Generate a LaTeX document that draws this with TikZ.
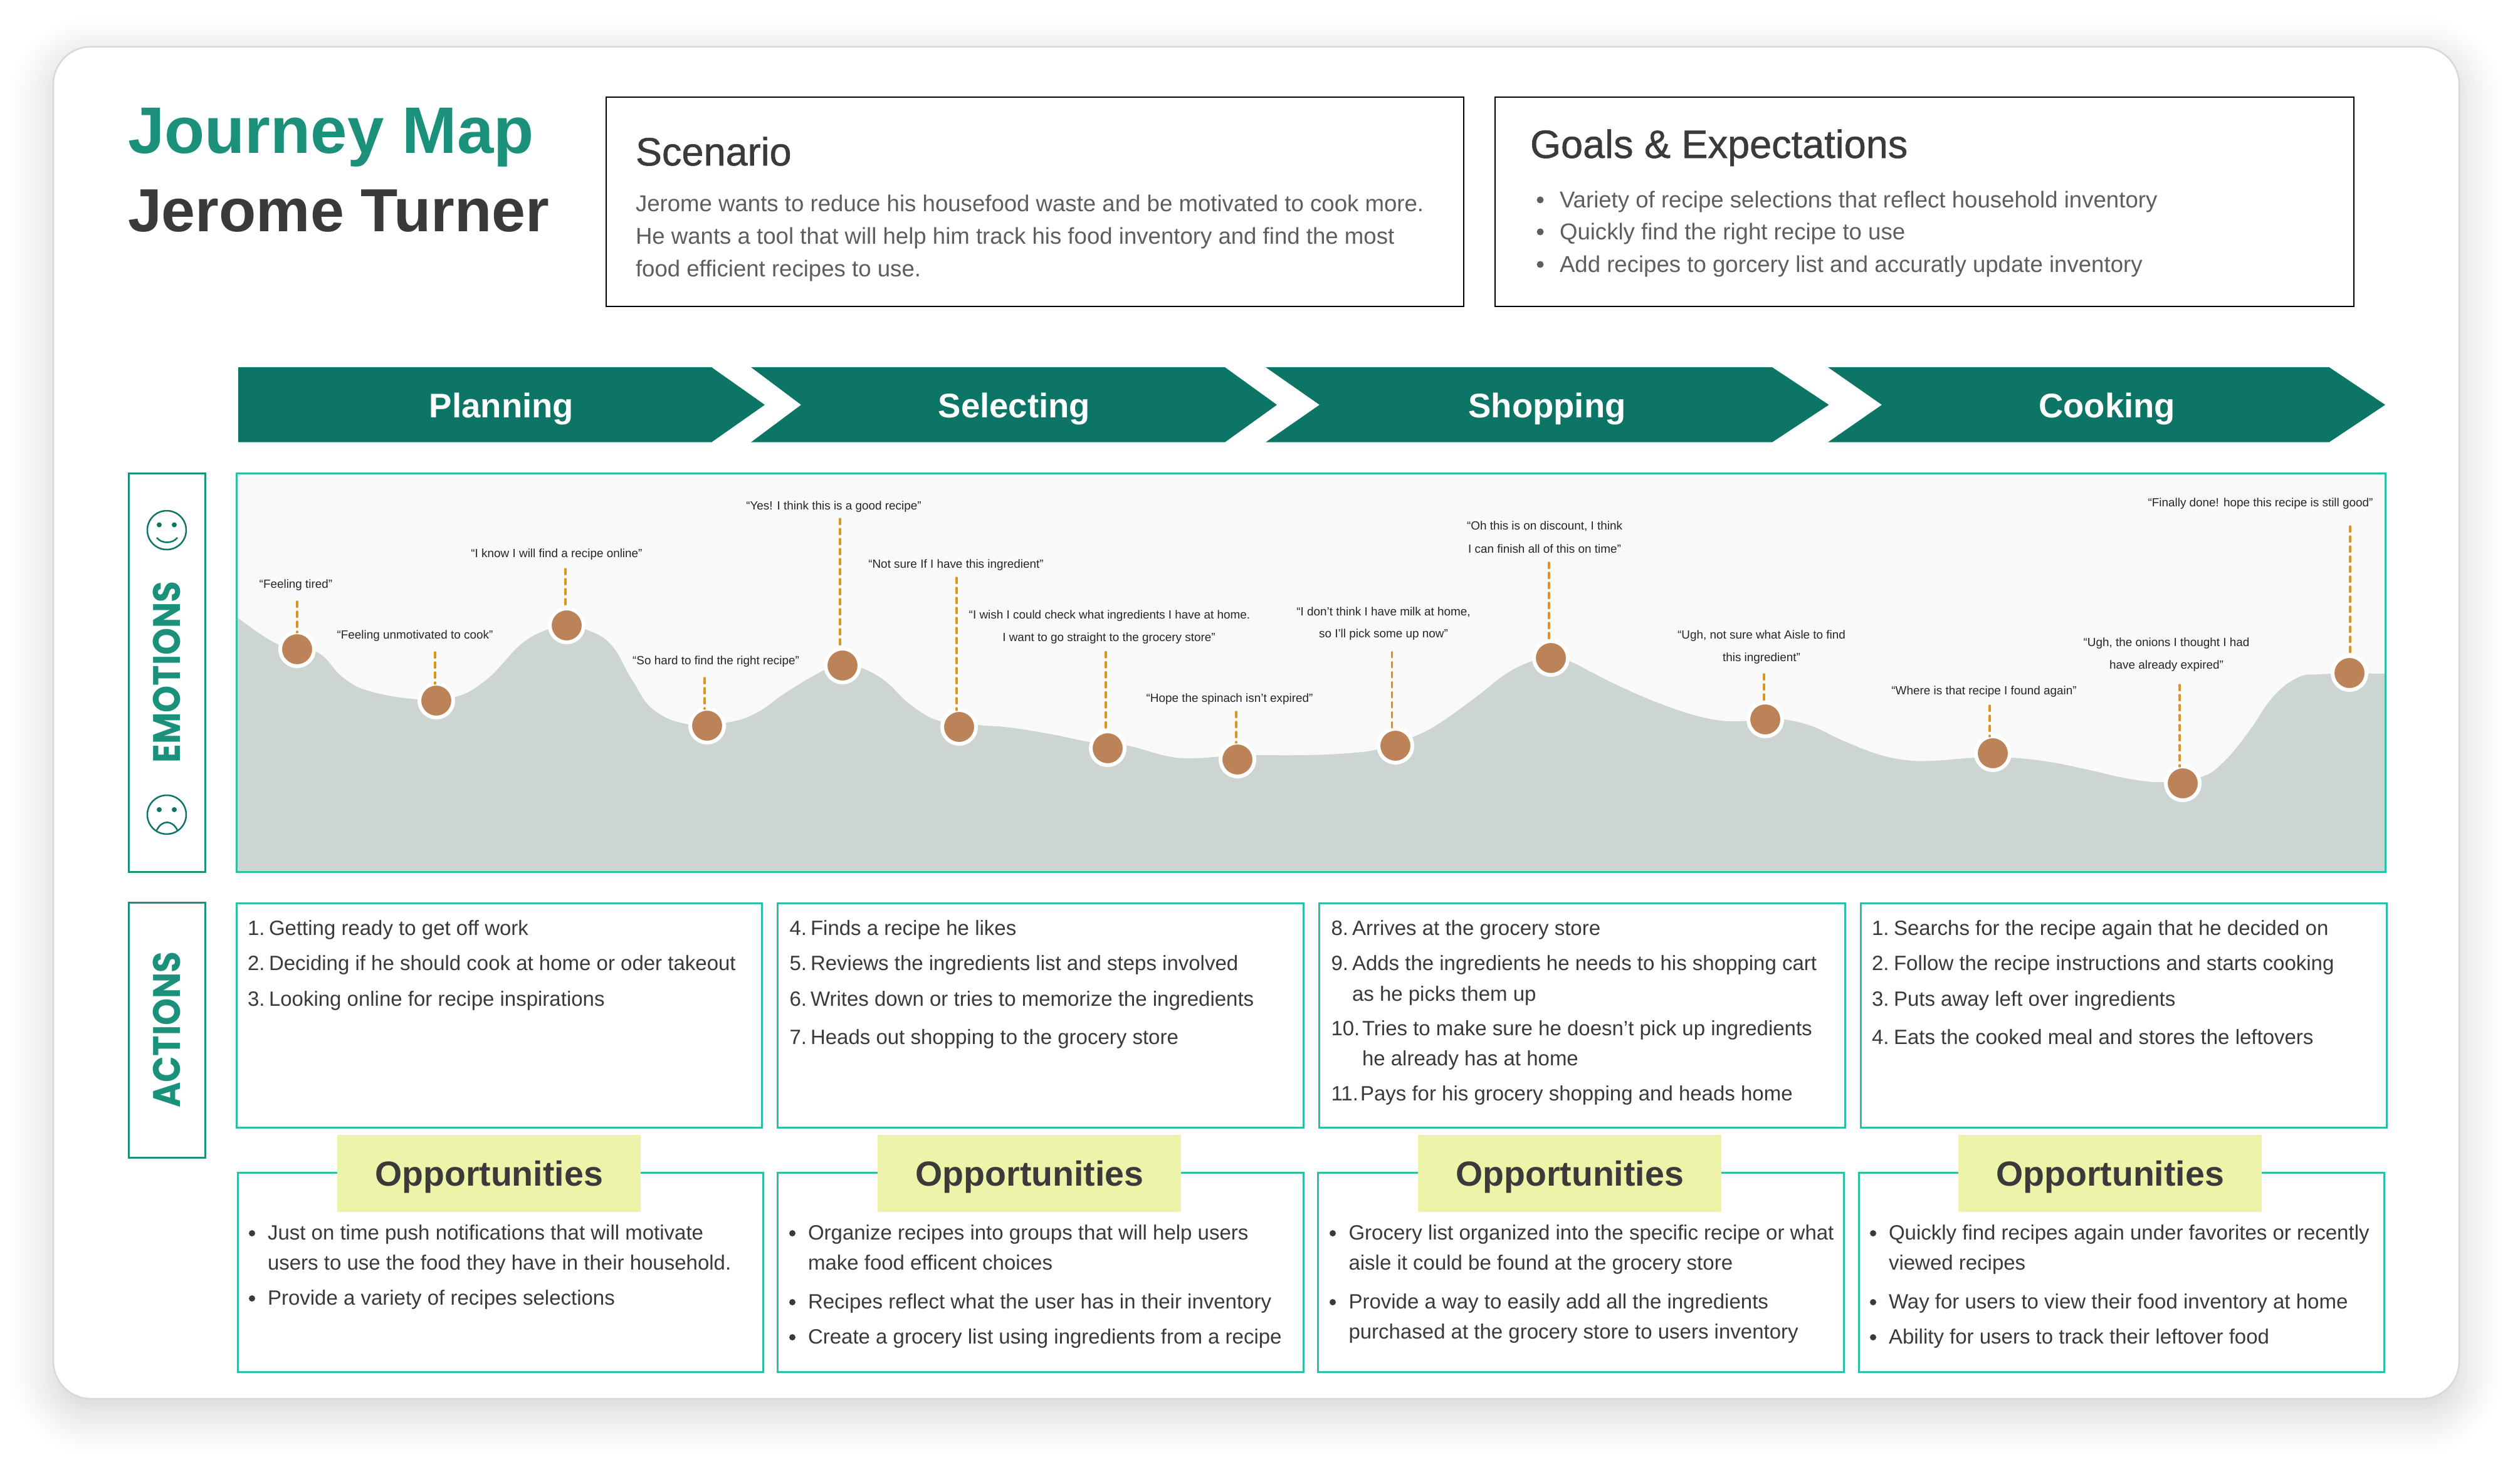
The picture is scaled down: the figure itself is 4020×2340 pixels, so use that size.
\documentclass[tikz,border=0pt]{standalone}
\usepackage{fontspec}
\setmainfont{Liberation Sans}
\newfontfamily\widefont{Poppins}[FakeStretch=0.9]
\newfontfamily\medfont{Liberation Sans}[FakeBold=0.9]
\usetikzlibrary{calc}
\definecolor{tealdk}{HTML}{0C7565}
\definecolor{tealmd}{HTML}{1B917B}
\definecolor{tealbr}{HTML}{2BBFA8}
\definecolor{ink}{HTML}{3A3A3A}
\definecolor{gray5}{HTML}{5E5E5E}
\definecolor{wavec}{HTML}{CDD5D2}
\definecolor{panelc}{HTML}{F9F9F9}
\definecolor{dotc}{HTML}{BC8358}
\definecolor{dashc}{HTML}{E0921F}
\definecolor{oppc}{HTML}{EDF4AA}
\definecolor{cardedge}{HTML}{D3DAD8}
\tikzset{
  x=1pt,y=-1pt,
  every node/.style={inner sep=0pt,outer sep=0pt},
  txt/.style={anchor=base west,text=ink,font=\fontsize{33}{33}\selectfont},
  graytxt/.style={anchor=base west,text=gray5,font=\fontsize{36.6}{36.6}\selectfont},
  headtxt/.style={anchor=base west,text=ink,font=\fontsize{63}{63}\selectfont\medfont},
  titletxt/.style={anchor=base west,font=\fontsize{105}{105}\selectfont\bfseries},
  nametxt/.style={anchor=base west,font=\fontsize{97}{97}\selectfont\bfseries},
  chevtxt/.style={anchor=base,text=white,font=\fontsize{54.5}{54.5}\selectfont\bfseries},
  chevfill/.style={fill=tealdk},
  quotetxt/.style={anchor=center,yshift=-2pt,text=black!85,font=\fontsize{18.9}{18.9}\selectfont},
  sidebox/.style={draw=tealmd,line width=3pt,fill=white},
  tealbox/.style={draw=tealbr,line width=3pt,fill=white},
  blackbox/.style={draw=black,line width=2.5pt,fill=white},
  sidetxt/.style={rotate=90,text=tealmd,font=\fontsize{61}{61}\selectfont\widefont\bfseries},
  oppbox/.style={fill=oppc},
  opptxt/.style={anchor=base,text=ink,font=\fontsize{55.5}{55.5}\selectfont\bfseries},
  dotn/.style={circle,draw=white,line width=6pt,fill=dotc,minimum size=54pt},
  dashn/.style={draw=dashc,line width=3.5pt,dash pattern=on 8.5pt off 7.5pt,line cap=round},
  bull/.style={circle,fill=ink,minimum size=10pt},
  gbull/.style={circle,fill=gray5,minimum size=11pt},
  face/.style={draw=tealdk,line width=2.5pt},
}
\begin{document}
\begin{tikzpicture}
\useasboundingbox (0,0) rectangle (4020,2340);
\fill[white] (0,0) rectangle (4020,2340);
% soft shadow of the card
\foreach \r in {72,70,...,-20}{
  \pgfmathsetmacro{\p}{13*pow((72-\r)/92,1.3)}
  \pgfmathsetmacro{\rad}{max(60+\r,30)}
  \fill[black!\p!white,rounded corners=\rad pt] (85-\r,95-\r) rectangle (3923+\r,2252+\r);
}
% card
\draw[fill=white,draw=cardedge,line width=2.5pt,rounded corners=60pt] (85,74.6) rectangle (3923,2232);
% title
\node[titletxt,text=tealmd] (t1) at (204,244) {Journey Map};
\node[nametxt,text=ink] (t2) at (204,369) {Jerome Turner};
% scenario
\draw[blackbox] (967,155) rectangle (2335,489);
\node[headtxt] (sc) at (1014,264) {Scenario};
\node[graytxt] (sc1) at (1014,337) {Jerome wants to reduce his housefood waste and be motivated to cook more.};
\node[graytxt] (sc2) at (1014,389) {He wants a tool that will help him track his food inventory and find the most};
\node[graytxt] (sc3) at (1014,441) {food efficient recipes to use.};
% goals
\draw[blackbox] (2385,155) rectangle (3755,489);
\node[headtxt] (go) at (2441,252) {Goals \& Expectations};
\foreach \n/\y/\s in {1/331/Variety of recipe selections that reflect household inventory,2/382/Quickly find the right recipe to use,3/434/Add recipes to gorcery list and accuratly update inventory}{
  \node[gbull] (gb\n) at (2457,\y-12) {};
  \node[graytxt] (g\n) at (2488,\y) {\s};
}
% chevrons
\fill[chevfill] (380,586) -- (1135,586) -- (1220,646) -- (1135,705.7) -- (380,705.7) -- cycle;
\fill[chevfill] (1198,586) -- (1954,586) -- (2037,646) -- (1954,705.7) -- (1198,705.7) -- (1278,646) -- cycle;
\fill[chevfill] (2019,586) -- (2827,586) -- (2917.5,646) -- (2827,705.7) -- (2019,705.7) -- (2105,646) -- cycle;
\fill[chevfill] (2916,586) -- (3715.5,586) -- (3805,646) -- (3715.5,705.7) -- (2916,705.7) -- (3002,646) -- cycle;
\node[chevtxt] (ch1) at (800,666) {Planning};
\node[chevtxt] (ch2) at (1618,666) {Selecting};
\node[chevtxt] (ch3) at (2468,666) {Shopping};
\node[chevtxt] (ch4) at (3361,666) {Cooking};
% emotions side
\draw[sidebox] (205,755) rectangle (327,1391);
\node[sidetxt] (em) at (265.5,1072.5) {EMOTIONS};
\draw[face] (266,846) circle (31);
\fill[tealdk] (254,837.5) circle (4) (278,837.5) circle (4);
\draw[face] (250,858) .. controls (258,868) and (275,868) .. (283,858);
\draw[face] (266,1300) circle (31);
\fill[tealdk] (254,1292) circle (4) (278,1292) circle (4);
\draw[face] (250,1325) .. controls (258,1308) and (275,1308) .. (283,1325);
% panel
\fill[panelc] (377,755) rectangle (3805,1391);
\fill[wavec] (377,1391) -- plot[smooth,tension=0.7] coordinates {
(377,984) (445,1029) (505,1040) (547,1081) (590,1103) (667,1116) (727,1112) (778,1083) (830,1029) (872,1005) (904,998) (936,1005) (975,1029) (1009,1086) (1043,1133) (1099,1156) (1159,1153) (1206,1138) (1257,1103) (1317,1068) (1344,1060) (1372,1065) (1411,1086) (1453,1125) (1500,1151) (1560,1157) (1611,1161) (1679,1172) (1739,1184) (1799,1190) (1859,1206) (1902,1210) (1974,1205) (2000,1205) (2081,1205) (2150,1202) (2201,1195) (2252,1177) (2295,1155) (2355,1112) (2406,1073) (2449,1053) (2474,1047) (2504,1055) (2577,1092) (2654,1125) (2722,1146) (2773,1151) (2816,1146) (2847,1148) (2891,1159) (2938,1181) (2994,1203) (3041,1213) (3084,1214) (3152,1209) (3207,1209) (3270,1216) (3334,1229) (3397,1243) (3452,1248) (3511,1240) (3547,1216) (3587,1168) (3626,1112) (3666,1081) (3701,1076) (3748,1075) (3805,1075)
} -- (3805,1391) -- cycle;
\draw[draw=tealbr,line width=3pt] (377,755) rectangle (3805,1391);
% points and dashed stems
\foreach \n/\cx/\cy/\dx/\dt in {1/474/1036/474/960,2/696/1118/694/1041,3/904/998/902/908,4/1128/1158/1124/1082,5/1344/1062/1340/828,6/1530/1160/1526/922,7/1767/1194/1764/1040.5,8/1974/1212/1972/1136,9/2226/1190/2220.5/1040.5,10/2474/1050/2471/898,11/2816/1148/2814/1076,12/3179/1202/3174/1126,13/3482/1250/3477/1093,14/3748/1074/3749/840}{
  \node[dotn] (p\n) at (\cx,\cy) {};
  \coordinate (s\n) at (\dx,\dt);
  \draw[dashn] (s\n) -- (s\n |- p\n.north);
}
% quotes
\node[quotetxt] (q1) at (472,932) {“Feeling tired”};
\node[quotetxt] (q2) at (662,1013) {“Feeling unmotivated to cook”};
\node[quotetxt] (q3) at (888,883) {“I know I will find a recipe online”};
\node[quotetxt] (q4) at (1142,1053.5) {“So hard to find the right recipe”};
\node[quotetxt] (q5) at (1330,807) {“Yes! I think this is a good recipe”};
\node[quotetxt] (q6) at (1525,900) {“Not sure If I have this ingredient”};
\node[quotetxt] (q7a) at (1770,981) {“I wish I could check what ingredients I have at home.};
\node[quotetxt] (q7b) at (1769,1017) {I want to go straight to the grocery store”};
\node[quotetxt] (q8) at (1961.5,1114) {“Hope the spinach isn’t expired”};
\node[quotetxt] (q9a) at (2207,975) {“I don’t think I have milk at home,};
\node[quotetxt] (q9b) at (2207,1011) {so I’ll pick some up now”};
\node[quotetxt] (q10a) at (2464,837.5) {“Oh this is on discount, I think};
\node[quotetxt] (q10b) at (2464,873.5) {I can finish all of this on time”};
\node[quotetxt] (q11a) at (2810,1013) {“Ugh, not sure what Aisle to find};
\node[quotetxt] (q11b) at (2810,1049) {this ingredient”};
\node[quotetxt] (q12) at (3165,1102) {“Where is that recipe I found again”};
\node[quotetxt] (q13a) at (3456,1025) {“Ugh, the onions I thought I had};
\node[quotetxt] (q13b) at (3456,1061) {have already expired”};
\node[quotetxt] (q14) at (3606,802) {“Finally done! hope this recipe is still good”};
% actions
\draw[sidebox] (205,1440.5) rectangle (327,1847);
\node[sidetxt] (ac) at (265.5,1643) {ACTIONS};
\draw[tealbox] (377,1441) rectangle (1215,1799);
\draw[tealbox] (1240,1441) rectangle (2079,1799);
\draw[tealbox] (2104,1441) rectangle (2943.5,1799);
\draw[tealbox] (2968.5,1441) rectangle (3807,1799);
\foreach \n/\x/\xt/\y/\a/\s in {
 a1/395/429/1492/1./Getting ready to get off work,
 a2/395/429/1548/2./Deciding if he should cook at home or oder takeout,
 a3/395/429/1605/3./Looking online for recipe inspirations,
 a4/1259.5/1293/1492/4./Finds a recipe he likes,
 a5/1259.5/1293/1548/5./Reviews the ingredients list and steps involved,
 a6/1259.5/1293/1605/6./Writes down or tries to memorize the ingredients,
 a7/1259.5/1293/1666/7./Heads out shopping to the grocery store,
 a8/2123.5/2157/1492/8./Arrives at the grocery store,
 a9/2123.5/2157/1548/9./Adds the ingredients he needs to his shopping cart,
 a9b/2123.5/2157/1597//as he picks them up,
 a10/2123.5/2173/1652/10./Tries to make sure he doesn’t pick up ingredients,
 a10b/2123.5/2173/1700//he already has at home,
 a11/2123.5/2170/1756/11./Pays for his grocery shopping and heads home,
 a12/2986/3021/1492/1./Searchs for the recipe again that he decided on,
 a13/2986/3021/1548/2./Follow the recipe instructions and starts cooking,
 a14/2986/3021/1605/3./Puts away left over ingredients,
 a15/2986/3021/1666/4./Eats the cooked meal and stores the leftovers}{
  \node[txt] (\n n) at (\x,\y) {\a};
  \node[txt] (\n t) at (\xt,\y) {\s};
}
% opportunities
\draw[tealbox] (379,1871) rectangle (1217,2189);
\draw[tealbox] (1240,1871) rectangle (2079,2189);
\draw[tealbox] (2102.5,1871) rectangle (2941.5,2189);
\draw[tealbox] (2965,1871) rectangle (3803,2189);
\fill[oppbox] (538,1810.5) rectangle (1022,1933.5);
\fill[oppbox] (1400,1810.5) rectangle (1884,1933.5);
\fill[oppbox] (2262,1810.5) rectangle (2746,1933.5);
\fill[oppbox] (3124,1810.5) rectangle (3608,1933.5);
\node[opptxt] (o1) at (780,1892) {Opportunities};
\node[opptxt] (o2) at (1642.5,1892) {Opportunities};
\node[opptxt] (o3) at (2504,1892) {Opportunities};
\node[opptxt] (o4) at (3366,1892) {Opportunities};
\foreach \n/\bx/\x/\y/\b/\s in {
 b1/402/427/1978/1/Just on time push notifications that will motivate,
 b2/402/427/2026//users to use the food they have in their household.,
 b3/402/427/2082/1/Provide a variety of recipes selections,
 b4/1264/1289/1978/1/Organize recipes into groups that will help users,
 b5/1264/1289/2026//make food efficent choices,
 b6/1264/1289/2088/1/Recipes reflect what the user has in their inventory,
 b7/1264/1289/2144/1/Create a grocery list using ingredients from a recipe,
 b8/2126/2151.5/1978/1/Grocery list organized into the specific recipe or what,
 b9/2126/2151.5/2026//aisle it could be found at the grocery store,
 b10/2126/2151.5/2088/1/Provide a way to easily add all the ingredients,
 b11/2126/2151.5/2136//purchased at the grocery store to users inventory,
 b12/2988/3013/1978/1/Quickly find recipes again under favorites or recently,
 b13/2988/3013/2026//viewed recipes,
 b14/2988/3013/2088/1/Way for users to view their food inventory at home,
 b15/2988/3013/2144/1/Ability for users to track their leftover food}{
  \ifx\b\empty\else\node[bull] (\n d) at (\bx,\y-10) {};\fi
  \node[txt] (\n t) at (\x,\y) {\s};
}
\end{tikzpicture}
\end{document}
